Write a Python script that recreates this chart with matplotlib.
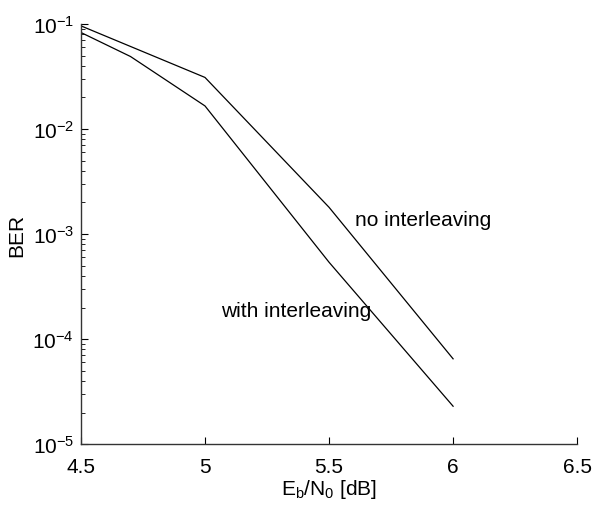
import matplotlib
matplotlib.use('Agg')
import matplotlib.pyplot as plt

# Eb/N0 en dB y BER
ebn0_sin = [4.5, 5.0, 5.5, 6.0]
ber_sin = [0.096, 0.031, 1.8e-3, 6.5e-5]

ebn0_con = [4.5, 4.7, 5.0, 5.5, 6.0]
ber_con = [0.083, 0.049, 0.0166, 5.4e-4, 2.3e-5]

xticks = [4.5, 5, 5.5, 6, 6.5]

plt.rcParams['font.family'] = ['Liberation Sans', 'DejaVu Sans']
plt.rcParams['mathtext.default'] = 'regular'
plt.rcParams['font.size'] = 15

fig = plt.figure(figsize=(5.95, 5.10), dpi=100)
ax = fig.add_axes([0.136, 0.127, 0.834, 0.824])

ax.semilogy(ebn0_sin, ber_sin, color='black', linewidth=0.9)
ax.semilogy(ebn0_con, ber_con, color='black', linewidth=0.9)

ax.text(5.605, 1.39e-3, 'no interleaving', va='center', ha='left', fontsize=15)
ax.text(5.065, 1.86e-4, 'with interleaving', va='center', ha='left', fontsize=15)

ax.set_xlim(4.5, 6.5)
ax.set_ylim(1e-5, 1e-1)
ax.set_xticks(xticks)
ax.set_xticklabels(['4.5', '5', '5.5', '6', '6.5'])

ax.spines['top'].set_visible(False)
ax.spines['right'].set_visible(False)
for s in ['left', 'bottom']:
    ax.spines[s].set_color('#333333')
    ax.spines[s].set_linewidth(1.0)

ax.tick_params(which='major', direction='in', length=5, width=0.8)
ax.tick_params(which='minor', direction='in', length=3, width=0.6)
ax.tick_params(axis='x', which='minor', bottom=False)
ax.tick_params(axis='x', pad=9)
ax.tick_params(axis='y', pad=5)

ax.set_xlabel(r'$E_b/N_0$ [dB]', labelpad=1)
ax.set_ylabel('BER', labelpad=4)

fig.savefig('out.png', dpi=100)
plt.close(fig)
